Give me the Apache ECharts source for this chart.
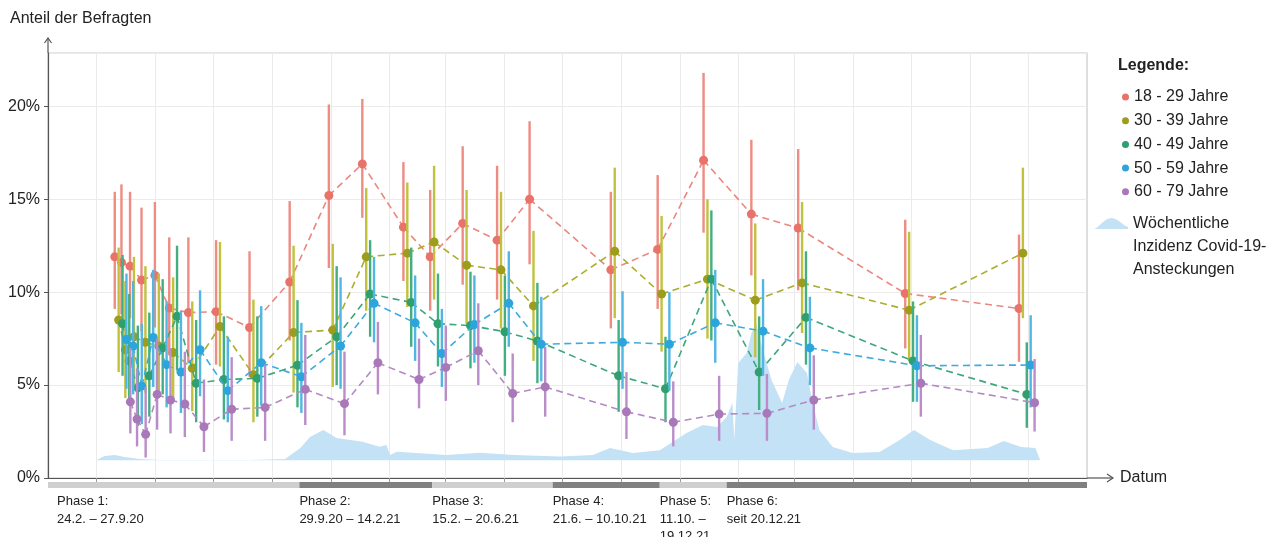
<!DOCTYPE html>
<html>
<head>
<meta charset="utf-8">
<script src="https://cdn.jsdelivr.net/npm/echarts@6/dist/echarts.min.js"></script>
<style>html,body{margin:0;padding:0;background:#fff}#c{width:1276px;height:537px}</style>
</head>
<body>
<div id="c"></div>
<script>
// ---------------- DATA ----------------
const groupNames = ['18 - 29 Jahre','30 - 39 Jahre','40 - 49 Jahre','50 - 59 Jahre','60 - 79 Jahre'];
const surveyDates = ['2020-03-28','2020-04-04','2020-04-13','2020-04-25','2020-05-09','2020-05-24','2020-06-13','2020-07-12','2020-08-16','2020-09-27','2020-11-07','2020-12-12','2021-01-24','2021-02-21','2021-03-27','2021-05-02','2021-06-05','2021-08-29','2021-10-17','2021-12-04','2022-01-23','2022-03-13','2022-07-03','2022-10-30'];

const val18 = [11.9,11.6,11.4,10.65,10.9,9.15,8.9,8.95,8.1,10.55,15.2,16.9,13.5,11.9,13.7,12.8,15.0,11.2,12.3,17.1,14.2,13.45,9.93,9.12];
const lo18  = [9.1,8.8,8.6,7.9,8.1,6.6,6.2,6.1,5.45,7.4,11.3,14.0,10.6,9.0,10.4,9.6,11.5,8.05,9.1,13.2,10.9,10.1,6.97,6.25];
const hi18  = [15.4,15.8,15.4,14.55,14.85,12.95,12.95,12.8,12.2,14.9,20.1,20.4,17.0,15.5,17.85,16.8,19.2,15.4,16.3,21.8,18.2,17.7,13.9,13.1];

const val30 = [8.5,6.9,7.6,7.3,7.1,6.75,5.9,8.15,5.55,7.83,7.96,11.9,12.1,12.7,11.45,11.2,9.26,12.2,9.9,10.7,9.57,10.5,9.03,12.1];
const lo30  = [5.7,4.3,4.9,4.6,4.4,4.2,3.6,6.0,3.0,4.6,4.9,9.0,9.2,9.6,8.3,8.05,6.3,8.6,6.8,7.5,6.5,7.8,6.3,8.6];
const hi30  = [12.4,10.6,11.9,11.4,11.0,10.8,9.5,12.7,9.6,12.5,12.6,15.6,15.9,16.8,15.5,15.4,13.3,16.7,14.1,15.0,13.7,14.85,13.25,16.7];

const val40 = [8.3,6.3,4.85,5.5,7.0,8.7,5.1,5.3,5.36,6.07,7.6,9.9,9.45,8.3,8.2,7.87,7.37,5.5,4.8,10.7,5.7,8.64,6.3,4.5];
const lo40  = [5.5,3.9,2.8,3.3,4.5,5.8,3.0,3.15,3.3,3.8,5.0,7.6,7.06,6.0,5.9,5.5,5.1,3.56,3.0,7.4,3.66,6.1,4.1,2.7];
const hi40  = [12.0,9.9,8.2,8.9,10.7,12.5,8.5,8.7,8.7,9.57,11.4,12.8,12.4,11.0,11.1,10.9,10.5,8.5,7.6,14.4,8.7,12.2,9.5,7.3];

const val50 = [7.45,7.1,4.95,7.56,6.1,5.7,6.9,4.7,6.2,5.45,7.1,9.4,8.35,6.7,8.26,9.4,7.2,7.3,7.2,8.35,7.9,7.0,6.04,6.08];
const lo50  = [4.8,4.5,2.9,4.9,3.8,3.5,4.4,3.0,3.9,3.5,4.8,7.3,6.3,4.9,6.2,7.06,5.2,4.8,4.7,6.2,5.5,5.0,4.1,3.8];
const hi50  = [11.0,10.6,8.3,11.2,9.5,9.0,10.1,7.6,9.25,8.35,10.8,11.9,10.9,9.1,10.9,12.2,9.75,10.05,10.0,11.2,10.7,9.75,8.76,8.76];

const val60 = [4.1,3.17,2.35,4.5,4.2,3.98,2.76,3.7,3.8,4.77,4.0,6.2,5.3,5.95,6.85,4.55,4.9,3.56,3.0,3.44,3.48,4.2,5.1,4.05];
const lo60  = [2.4,1.7,1.1,2.6,2.4,2.2,1.4,2.0,2.0,2.85,2.3,4.5,3.75,4.15,5.0,3.0,3.3,2.1,1.7,2.0,2.0,2.6,3.3,2.5];
const hi60  = [7.0,5.9,4.9,7.5,7.0,6.8,5.3,6.5,6.1,7.7,6.8,8.4,7.5,8.2,9.4,6.7,7.06,5.7,5.2,5.5,5.6,6.6,7.7,6.4];

// weekly incidence (drawn on the share axis as a background silhouette)
const incName = 'Wöchentliche Inzidenz Covid-19-Ansteckungen';
const incLegendLines = ['Wöchentliche','Inzidenz Covid-19-','Ansteckungen'];
const incDates = ['2020-03-01','2020-03-09','2020-03-20','2020-03-30','2020-04-15','2020-05-06','2020-06-17','2020-08-08','2020-09-14','2020-09-30','2020-10-10','2020-10-24','2020-11-07','2020-12-04','2020-12-22','2020-12-29','2021-01-02','2021-01-09','2021-03-02','2021-04-06','2021-05-11','2021-06-29','2021-08-02','2021-08-20','2021-09-13','2021-10-11','2021-11-08','2021-11-25','2021-12-10','2021-12-20','2021-12-26','2021-12-28','2022-01-01','2022-01-10','2022-01-15','2022-01-20','2022-01-26','2022-02-05','2022-02-16','2022-02-23','2022-03-04','2022-03-14','2022-03-20','2022-03-27','2022-04-10','2022-05-01','2022-05-29','2022-06-19','2022-07-04','2022-07-21','2022-08-14','2022-09-19','2022-10-06','2022-10-24','2022-11-08','2022-11-13'];
const incValues = [0.97,1.18,1.24,1.13,1.02,0.97,0.97,0.97,1.02,1.61,2.2,2.58,2.15,1.95,1.68,1.77,1.24,1.41,1.24,1.36,1.24,1.16,1.24,1.61,1.34,1.5,2.42,2.85,2.74,3.28,4.03,2.04,6.18,6.72,7.8,8.33,7.04,5.27,4.03,5.27,6.24,5.65,4.03,2.58,1.67,1.34,1.4,2.04,2.58,2.04,1.5,1.61,1.99,1.67,1.61,0.97];

const gridDates = ['2020-03-01','2020-05-01','2020-07-01','2020-09-01','2020-11-01','2021-01-01','2021-03-01','2021-05-01','2021-07-01','2021-09-01','2021-11-01','2022-01-01','2022-03-01','2022-05-01','2022-07-01','2022-09-01','2022-11-01'];
const phaseStarts = ['2020-02-24','2020-09-29','2021-02-15','2021-06-21','2021-10-11','2021-12-20'];
const phaseLabels = ['Phase 1:\n24.2. – 27.9.20','Phase 2:\n29.9.20 – 14.2.21','Phase 3:\n15.2. – 20.6.21','Phase 4:\n21.6. – 10.10.21','Phase 5:\n11.10. –\n19.12.21','Phase 6:\nseit 20.12.21'];
const yTicks = [0,5,10,15,20];
const axisStart = '2020-01-10', axisEnd = '2023-01-01';

// ---------------- STYLE ----------------
const FONT = '"Liberation Sans", Arial, Helvetica, sans-serif';
const pointColors = ['#E8736A','#9E9C1C','#2F9F6F','#2CA5DC','#A978B9'];
const barColors   = ['#EE8C83','#C0C23E','#43AF80','#52B6E4','#BA8DC9'];
const dashColors  = ['#EA877E','#ABAD2C','#3DA77B','#3FAADD','#B489C4'];
const DODGE = 3.9;
const GL = 48, GR = 1087, GT = 53, GB = 478;

const ts = s => +echarts.time.parse(s);
const vals = [val18,val30,val40,val50,val60], los=[lo18,lo30,lo40,lo50,lo60], his=[hi18,hi30,hi40,hi50,hi60];

function groupSeries(k) {
  const data = surveyDates.map((d,i)=>[ts(d), vals[k][i], los[k][i], his[k][i]]);
  return {
    type:'custom', name: groupNames[k], z: 3 + k*0.01,
    itemStyle:{color: pointColors[k]},
    data, encode:{x:0, y:[1,2,3]},
    renderItem(params, api) {
      const i = params.dataIndex;
      const dx = (k-2)*DODGE;
      const p = api.coord([api.value(0), api.value(1)]);
      const lo = api.coord([api.value(0), api.value(2)]);
      const hi = api.coord([api.value(0), api.value(3)]);
      const ch = [];
      if (i > 0) {
        const pv = data[i-1];
        const pp = api.coord([pv[0], pv[1]]);
        ch.push({type:'line', shape:{x1:pp[0]+dx, y1:pp[1], x2:p[0]+dx, y2:p[1]},
          style:{stroke:dashColors[k], lineWidth:1.6, lineDash:[7,4.5]}, z2:1});
      }
      ch.push({type:'line', shape:{x1:p[0]+dx, y1:lo[1], x2:p[0]+dx, y2:hi[1]},
        style:{stroke:barColors[k], lineWidth:2.4}, z2:2});
      ch.push({type:'circle', shape:{cx:p[0]+dx, cy:p[1], r:4.5},
        style:{fill:pointColors[k]}, z2:3});
      return {type:'group', children: ch};
    }
  };
}

const phaseSeries = {
  type:'custom', name:'Phasen', silent:true, z:4,
  data: phaseStarts.map((d,i)=>[ts(d), ts(i+1<phaseStarts.length ? phaseStarts[i+1] : axisEnd)]),
  encode:{x:[0,1]},
  renderItem(params, api) {
    const i = params.dataIndex;
    const cs = params.coordSys;
    let x0 = api.coord([api.value(0), 0])[0];
    const x1 = api.coord([api.value(1), 0])[0];
    if (i === 0) x0 = cs.x;
    const yb = cs.y + cs.height;
    const tx = i === 0 ? cs.x + 9 : x0;
    return {type:'group', children:[
      {type:'rect', shape:{x:x0, y:yb+4, width:x1-x0, height:6},
        style:{fill: i%2===0 ? '#cfcfcf' : '#808080'}},
      {type:'text', style:{text: phaseLabels[i], x: tx, y: yb+15, fontSize:13, lineHeight:17.5,
        fontFamily: FONT, fill:'#222', verticalAlign:'top', align:'left'}}
    ]};
  }
};

const incSeries = {
  type:'line', name: incName, z:1, silent:true,
  data: incDates.map((d,i)=>[ts(d), incValues[i]]),
  symbol:'none', lineStyle:{width:0}, itemStyle:{color:'#C3E2F6'},
  areaStyle:{color:'#C3E2F6', opacity:1, origin:0.95}
};

const option = {
  animation:false,
  textStyle:{fontFamily: FONT},
  title:{text:'Legende:', left:1118, top:58, padding:0,
    textStyle:{fontSize:16, fontWeight:'bold', color:'#222', fontFamily:FONT}},
  grid:{left:GL, right:1276-GR, top:GT, bottom:537-GB, show:true, borderColor:'#c9c9c9', borderWidth:1.2, backgroundColor:'transparent'},
  legend:[
    {orient:'vertical', left:1122, top:89, padding:0, itemWidth:7, itemHeight:7, itemGap:7.7,
     icon:'circle', selectedMode:false, data: groupNames,
     textStyle:{fontSize:16, lineHeight:16, color:'#222', fontFamily:FONT}},
    {orient:'vertical', left:1094, top:166, padding:0, itemWidth:34, itemHeight:12,
     icon:'path://M0,11 C5,10 9,1 17,0 C24,0 28,7 34,9 L34,11 Z', selectedMode:false,
     data:[incName],
     // two blank lines on top so that the first text line sits level with the icon
     formatter: () => ['', ''].concat(incLegendLines).join('\n'),
     textStyle:{fontSize:16, lineHeight:23, color:'#222', fontFamily:FONT}}
  ],
  xAxis:{type:'time', min: ts(axisStart), max: ts(axisEnd),
    name:'Datum', nameLocation:'end', nameGap:33,
    nameTextStyle:{fontSize:16, color:'#222', fontFamily:FONT, verticalAlign:'middle'},
    axisLine:{show:true, lineStyle:{color:'#555', width:1.2}},
    axisTick:{show:true, customValues: gridDates.map(ts), length:5, lineStyle:{color:'#9a9a9a'}},
    axisLabel:{show:false},
    splitLine:{show:true, lineStyle:{color:'#ebebeb', width:1}}
  },
  yAxis:{type:'value', min:0, max:22.87, interval:5,
    name:'Anteil der Befragten', nameLocation:'end', nameGap:34,
    nameTextStyle:{fontSize:16, color:'#222', fontFamily:FONT, align:'left', verticalAlign:'middle', padding:[0,0,0,-38]},
    axisLine:{show:true, lineStyle:{color:'#555', width:1.2}},
    axisTick:{show:true, length:4, lineStyle:{color:'#555'}},
    axisLabel:{fontSize:16, color:'#222', margin:8, fontFamily:FONT, showMaxLabel:false,
      formatter: v => (yTicks.indexOf(v) >= 0 ? v + '%' : '')},
    splitLine:{show:true, lineStyle:{color:'#ebebeb', width:1}}
  },
  graphic:[
    {type:'line', silent:true, shape:{x1:GR, y1:GB, x2:GR+26, y2:GB}, style:{stroke:'#555', lineWidth:1.2}},
    {type:'polyline', silent:true, shape:{points:[[GR+20,GB-4],[GR+26,GB],[GR+20,GB+4]]}, style:{stroke:'#555', lineWidth:1.2, fill:null}},
    {type:'line', silent:true, shape:{x1:GL, y1:GT, x2:GL, y2:GT-15}, style:{stroke:'#555', lineWidth:1.2}},
    {type:'polyline', silent:true, shape:{points:[[GL-3.5,GT-10],[GL,GT-15],[GL+3.5,GT-10]]}, style:{stroke:'#555', lineWidth:1.2, fill:null}}
  ],
  series:[incSeries, phaseSeries].concat([0,1,2,3,4].map(groupSeries))
};

const chart = echarts.init(document.getElementById('c'), null, {renderer:'canvas', width:1276, height:537});
chart.setOption(option);
</script>
</body>
</html>
